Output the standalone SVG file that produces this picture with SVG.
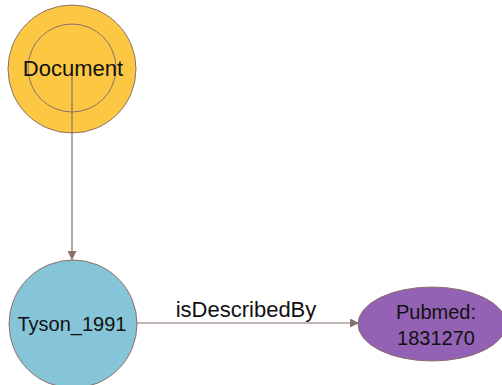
<svg xmlns="http://www.w3.org/2000/svg" width="502" height="385" viewBox="0 0 502 385">
<style>
.edge{stroke:#8a7068;stroke-width:1.2;fill:none}
.node{stroke:#8a7068;stroke-width:1}
.lbl{font-family:"Liberation Sans",Arial,sans-serif;fill:#111;text-anchor:middle}
</style>
<defs>
<marker id="arr" viewBox="0 0 10 10" refX="10" refY="5" markerWidth="9" markerHeight="9" markerUnits="userSpaceOnUse" orient="auto">
<path d="M0,0 L10,5 L0,10 z" fill="#8a7068"/>
</marker>
</defs>
<rect width="502" height="385" fill="#fff"/>
<g id="node-document">
<circle class="node" cx="72" cy="69" r="64" fill="#fcc844"/>
<circle class="node" cx="72" cy="68" r="44" fill="none"/>
</g>
<g id="node-tyson">
<circle class="node" cx="73" cy="324" r="64" fill="#86c5d7"/>
<text class="lbl" x="72" y="331" font-size="20">Tyson_1991</text>
</g>
<g id="node-pubmed">
<ellipse class="node" cx="432" cy="324" rx="74" ry="37" fill="#9462b4"/>
<text class="lbl" x="436" y="319" font-size="20">Pubmed:</text>
<text class="lbl" x="436" y="345" font-size="20">1831270</text>
</g>
<g id="connectors">
<line class="edge" x1="72" y1="72" x2="72" y2="260" marker-end="url(#arr)"/>
<line class="edge" x1="137" y1="323" x2="359" y2="323" marker-end="url(#arr)"/>
<text class="lbl" x="246" y="317" font-size="22">isDescribedBy</text>
</g>
<text class="lbl" x="73" y="76" font-size="22">Document</text>
</svg>
